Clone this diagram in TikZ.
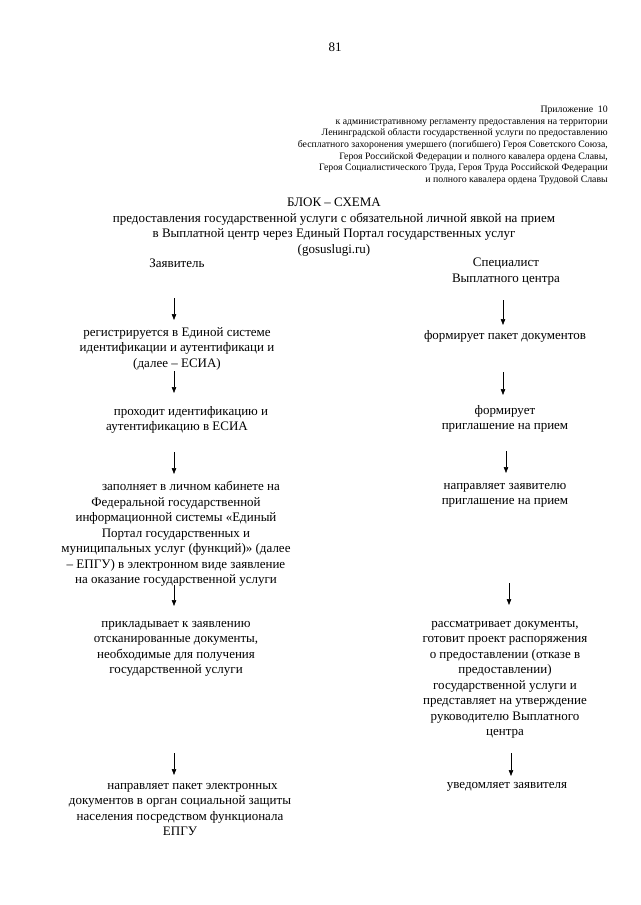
\documentclass[tikz,border=0pt]{standalone}
\usepackage{fontspec}
\setmainfont{Liberation Serif}
\usepackage{tikz}
\usetikzlibrary{arrows.meta,positioning}
\tikzset{
  bs/text/.style={align=center, inner sep=0pt, anchor=north, font=\fontsize{13}{15.5}\selectfont, execute at begin node=\strut},
  bs/note/.style={align=right, inner sep=0pt, anchor=north east, font=\fontsize{9.8}{11.6}\selectfont, execute at begin node=\strut},
  bs/flow/.style={-{Triangle[length=6pt,width=4.5pt]}, line width=0.6pt, shorten >=#1},
  bs/flow/.default=2pt
}

\begin{document}
\begin{tikzpicture}[x=1pt, y=-1pt]
  \useasboundingbox (0,0) rectangle (640,905);

  \node[bs/text] (page) at (335,40) {81};
  \node[bs/note] (annex) at (608,106) {Приложение~ 10\\к  административному регламенту предоставления на территории\\Ленинградской области  государственной услуги по предоставлению\\бесплатного захоронения умершего (погибшего) Героя Советского Союза,\\Героя Российской Федерации и полного кавалера ордена Славы,\\Героя Социалистического Труда, Героя Труда Российской Федерации\\и полного кавалера ордена Трудовой Славы};

  \node[bs/text] (title) at (334,198) {БЛОК – СХЕМА\\предоставления государственной услуги  с обязательной личной явкой на прием\\в Выплатной центр через Единый Портал государственных услуг\\(gosuslugi.ru)};

  % applicant column
  \node[bs/text] (appl) at (177,256) {Заявитель};
  \node[bs/text] (reg) at (177,327) {регистрируется в Единой системе\\идентификации и аутентификаци и\\(далее – ЕСИА)};
  \node[bs/text] (ident) at (177,406) {\hspace*{28pt}проходит идентификацию и\\аутентификацию в ЕСИА};
  \node[bs/text] (fill) at (176,481) {\hspace*{30pt}заполняет в личном кабинете на\\Федеральной государственной\\информационной системы «Единый\\Портал государственных и\\муниципальных услуг (функций)» (далее\\– ЕПГУ)  в электронном виде заявление\\на оказание государственной услуги};
  \node[bs/text] (attach) at (176,621) {прикладывает  к заявлению\\отсканированные документы,\\необходимые для получения\\государственной услуги};
  \node[bs/text] (send) at (180,783) {\hspace*{25pt}направляет пакет электронных\\документов в орган социальной защиты\\населения посредством функционала\\ЕПГУ};

  % specialist column
  \node[bs/text] (spec) at (506,258) {Специалист\\Выплатного центра};
  \node[bs/text] (pack) at (505,328) {формирует пакет документов};
  \node[bs/text] (invite) at (505,405) {формирует\\приглашение на прием};
  \node[bs/text] (sendinv) at (505,483) {направляет заявителю\\приглашение на прием};
  \node[bs/text] (review) at (505,621) {рассматривает документы,\\готовит проект распоряжения\\о предоставлении (отказе в\\предоставлении)\\государственной услуги и\\представляет на утверждение\\руководителю Выплатного\\центра};
  \node[bs/text] (notify) at (507,777) {уведомляет заявителя};

  \coordinate (l1) at (174,298);
  \coordinate (l2) at (174,371);
  \coordinate (l3) at (174,452);
  \coordinate (l4) at (174,585);
  \coordinate (l5) at (174,753);
  \coordinate (r1) at (503,300);
  \coordinate (r2) at (503,372);
  \coordinate (r3) at (506,451);
  \coordinate (r4) at (509,583);
  \coordinate (r5) at (511,753);

  \draw[bs/flow=7pt] (l1) -- (l1 |- reg.north);
  \draw[bs/flow=13pt] (l2) -- (l2 |- ident.north);
  \draw[bs/flow=7pt] (l3) -- (l3 |- fill.north);
  \draw[bs/flow=15pt] (l4) -- (l4 |- attach.north);
  \draw[bs/flow=8pt] (l5) -- (l5 |- send.north);
  \draw[bs/flow=3pt] (r1) -- (r1 |- pack.north);
  \draw[bs/flow=10pt] (r2) -- (r2 |- invite.north);
  \draw[bs/flow=10pt] (r3) -- (r3 |- sendinv.north);
  \draw[bs/flow=16pt] (r4) -- (r4 |- review.north);
  \draw[bs/flow=1pt] (r5) -- (r5 |- notify.north);
\end{tikzpicture}
\end{document}
